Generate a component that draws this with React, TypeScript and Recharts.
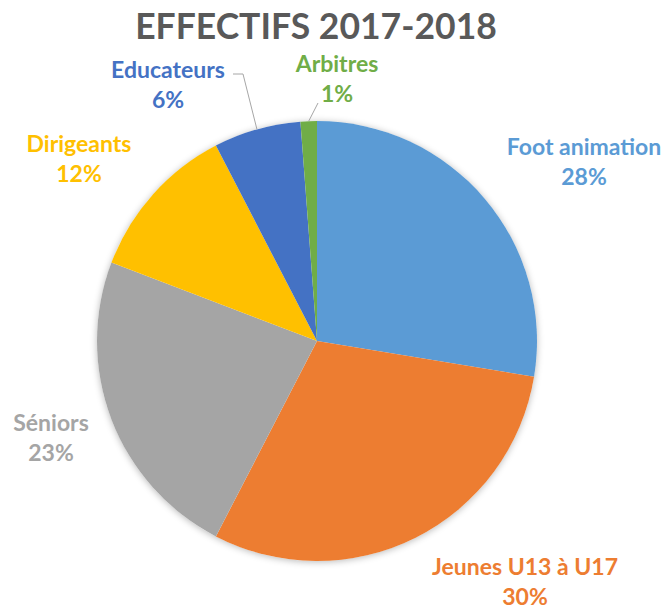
import { PieChart, Pie, Cell } from "recharts";

const TITLE = "EFFECTIFS 2017-2018";
const CATEGORIES = ["Foot animation", "Jeunes U13 à U17", "Séniors", "Dirigeants", "Educateurs", "Arbitres"];
const SHARES = [27.6, 30.0, 23.2, 11.6, 6.4, 1.2];
const COLORS = ["#5B9BD5", "#ED7D31", "#A5A5A5", "#FFC000", "#4472C4", "#70AD47"];

const data = CATEGORIES.map((name, i) => ({ name, value: SHARES[i] }));

const FONT = "Lato, 'Open Sans', sans-serif";
const RAD = Math.PI / 180;

// label anchors placed by hand, like Excel's "best fit" (centre x, first baseline y)
const LABEL_POS: Record<string, [number, number]> = {
  "Foot animation": [584, 155],
  "Jeunes U13 à U17": [525, 575],
  "Séniors": [51, 431],
  "Dirigeants": [79, 152],
  "Educateurs": [168, 78],
  "Arbitres": [337, 72],
};

// leader lines: points from the label towards the slice edge
const LEADERS: Record<string, [number, number][]> = {
  "Educateurs": [[233, 74], [243, 74]],
  "Arbitres": [[318, 103]],
};

const renderLabel = (props: any) => {
  const { cx, cy, midAngle, outerRadius, percent, name, index } = props;
  const [x, y] = LABEL_POS[name];
  const color = COLORS[index];
  const lead = LEADERS[name];
  let line = null;
  if (lead) {
    const ex = cx + outerRadius * Math.cos(-midAngle * RAD);
    const ey = cy + outerRadius * Math.sin(-midAngle * RAD);
    const pts = [...lead, [ex, ey]].map((p) => p.join(",")).join(" ");
    line = <polyline points={pts} fill="none" stroke="#A6A6A6" strokeWidth={1} />;
  }
  return (
    <g>
      {line}
      <text
        x={x}
        y={y}
        fill={color}
        textAnchor="middle"
        fontFamily={FONT}
        fontWeight={700}
        fontSize={23}
      >
        <tspan x={x} y={y}>{name}</tspan>
        <tspan x={x} y={y + 30}>{`${Math.round(percent * 100)}%`}</tspan>
      </text>
    </g>
  );
};

export default function App() {
  return (
    <div style={{ position: "absolute", left: 0, top: 0, width: 668, height: 610, background: "#fff" }}>
      <div
        style={{
          position: "absolute",
          left: 0,
          width: 632,
          top: 5,
          textAlign: "center",
          fontFamily: FONT,
          fontWeight: 700,
          fontSize: 35.5,
          color: "#595959",
          lineHeight: "42.6px",
        }}
      >
        {TITLE}
      </div>
      {/* soft shadow behind the pie, as in the Excel original */}
      <div
        style={{
          position: "absolute",
          left: 97,
          top: 121,
          width: 440,
          height: 440,
          borderRadius: "50%",
          boxShadow: "0 1px 7px rgba(0,0,0,0.28)",
        }}
      />
      <PieChart width={668} height={610} style={{ position: "absolute", left: 0, top: 0 }}>
        <Pie
          data={data}
          dataKey="value"
          nameKey="name"
          cx={312}
          cy={336}
          outerRadius={220}
          startAngle={90}
          endAngle={-270}
          stroke="none"
          label={renderLabel}
          labelLine={false}
          isAnimationActive={false}
        >
          {data.map((d, i) => (
            <Cell key={d.name} fill={COLORS[i]} />
          ))}
        </Pie>
      </PieChart>
    </div>
  );
}
